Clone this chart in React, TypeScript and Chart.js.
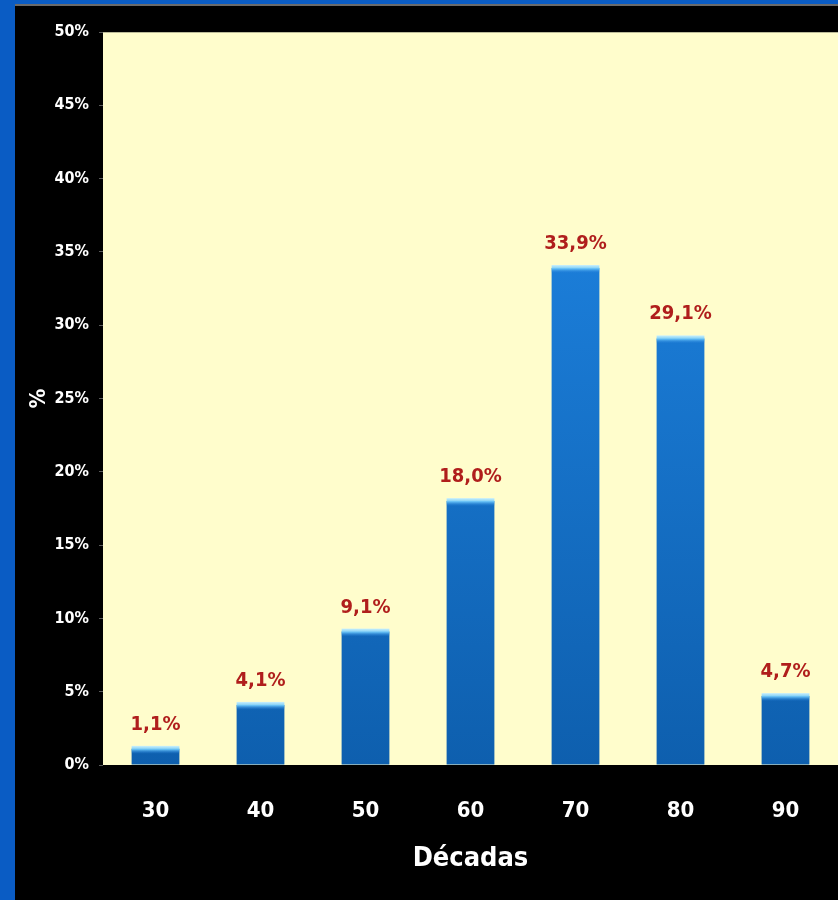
import React, { useEffect, useRef } from "react";
import { Chart, registerables } from "chart.js";

Chart.register(...registerables);

// Share of items per decade
const decades = ["30", "40", "50", "60", "70", "80", "90"];
const shares = [1.1, 4.1, 9.1, 18.0, 33.9, 29.1, 4.7];
const yTicks = [0, 5, 10, 15, 20, 25, 30, 35, 40, 45, 50];

const FONT = "'Liberation Sans Narrow', 'DejaVu Sans Condensed', Arial, sans-serif";

const fmt = (v: number) => v.toFixed(1).replace(".", ",") + "%";

// Blue frame, black panel and pale plot area
const framePlugin = {
  id: "frame",
  beforeDraw(chart: any) {
    const { ctx, width, height, chartArea } = chart;
    ctx.save();
    ctx.fillStyle = "#0a5cc4";
    ctx.fillRect(0, 0, width, height);
    ctx.fillStyle = "#000000";
    ctx.fillRect(15, 4, width - 15, height - 4);
    ctx.fillStyle = "#6a6a6a";
    ctx.fillRect(15, 4, width - 15, 2);
    ctx.fillStyle = "#fffdcc";
    ctx.fillRect(chartArea.left, chartArea.top, chartArea.right - chartArea.left, chartArea.bottom - chartArea.top);
    ctx.fillStyle = "rgba(120,120,100,0.5)";
    ctx.fillRect(chartArea.left, chartArea.top, chartArea.right - chartArea.left, 1);
    ctx.restore();
  },
};

// Light cap on each bar and the value above it
const barDecorPlugin = {
  id: "barDecor",
  afterDatasetsDraw(chart: any) {
    const { ctx } = chart;
    const meta = chart.getDatasetMeta(0);
    ctx.save();
    meta.data.forEach((bar: any, i: number) => {
      const w = bar.width;
      const left = bar.x - w / 2;
      const g = ctx.createLinearGradient(0, bar.y - 3, 0, bar.y + 5);
      g.addColorStop(0, "rgba(200,240,255,0.95)");
      g.addColorStop(0.45, "rgba(110,200,250,0.9)");
      g.addColorStop(1, "rgba(40,130,220,0)");
      ctx.fillStyle = g;
      ctx.fillRect(left, bar.y - 3, w, 8);

      ctx.fillStyle = "#b01e1c";
      ctx.font = `bold 20px ${FONT}`;
      ctx.textAlign = "center";
      ctx.textBaseline = "alphabetic";
      ctx.fillText(fmt(shares[i]), bar.x, bar.y - 19);
    });
    ctx.restore();
  },
};

export default function App() {
  const ref = useRef<HTMLCanvasElement | null>(null);

  useEffect(() => {
    if (!ref.current) return;
    const chart = new Chart(ref.current, {
      type: "bar",
      data: {
        labels: decades,
        datasets: [
          {
            data: shares,
            backgroundColor: (c: any) => {
              const area = c.chart.chartArea;
              if (!area) return "#1570c8";
              const g = c.chart.ctx.createLinearGradient(0, area.top + 230, 0, area.bottom);
              g.addColorStop(0, "#1b7dd8");
              g.addColorStop(1, "#0e5fae");
              return g;
            },
            borderWidth: 0,
            categoryPercentage: 1,
            barPercentage: 0.455,
          },
        ],
      },
      options: {
        responsive: false,
        animation: false,
        devicePixelRatio: 1,
        layout: { padding: { top: 32, right: 0, bottom: 0, left: 0 } },
        plugins: { legend: { display: false }, tooltip: { enabled: false } },
        scales: {
          x: {
            afterFit: (s: any) => {
              s.height = 135;
            },
            grid: { display: false, drawTicks: false },
            border: { display: false },
            ticks: {
              color: "#ffffff",
              padding: 33,
              font: { family: FONT, size: 22, weight: "bold" },
            },
            title: {
              display: true,
              text: "Décadas",
              color: "#ffffff",
              font: { family: FONT, size: 27, weight: "bold" },
              padding: { top: 0, bottom: 25 },
            },
          },
          y: {
            min: 0,
            max: 50,
            afterFit: (s: any) => {
              s.width = 103;
            },
            afterBuildTicks: (s: any) => {
              s.ticks = yTicks.map((v) => ({ value: v }));
            },
            grid: { drawOnChartArea: false, drawTicks: true, tickLength: 4, color: "#5a5a5a" },
            border: { display: false },
            ticks: {
              color: "#ffffff",
              padding: 10,
              font: { family: FONT, size: 16, weight: "bold" },
              callback: (v: any) => `${v}%`,
            },
            title: {
              display: true,
              text: "%",
              color: "#ffffff",
              font: { family: FONT, size: 22, weight: "bold" },
              padding: { top: 26, bottom: 0 },
            },
          },
        },
      },
      plugins: [framePlugin, barDecorPlugin],
    });
    return () => chart.destroy();
  }, []);

  return (
    <div style={{ position: "absolute", left: 0, top: 0, width: 838, height: 900 }}>
      <canvas ref={ref} width={838} height={900} style={{ display: "block" }} />
    </div>
  );
}
